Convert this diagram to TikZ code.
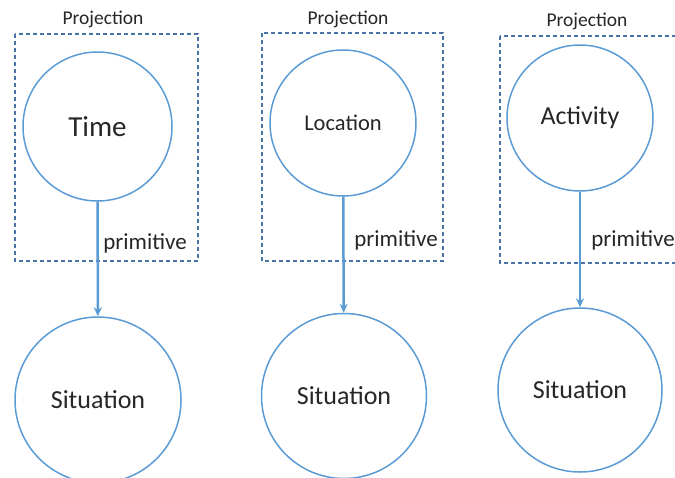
\documentclass[tikz,border=0pt]{standalone}
\usepackage{fontspec}
\setmainfont{Carlito}
\usetikzlibrary{arrows.meta}
\definecolor{circblue}{RGB}{91,155,213}
\definecolor{boxblue}{RGB}{72,114,168}

\begin{document}
\begin{tikzpicture}[x=1pt,y=-1pt,
  concept/.style={draw=circblue,line width=1.5pt,circle,inner sep=0pt},
  projbox/.style={draw=boxblue,line width=1.2pt,dash pattern=on 4pt off 3pt},
  arr/.style={draw=circblue,line width=2.5pt,-{Stealth[length=9pt,width=8pt]}},
  lbl/.style={inner sep=0pt,text=black!85}]
\useasboundingbox (0,0) rectangle (675,477);

% projection boxes
\draw[projbox] (15,34) rectangle (198,261);
\draw[projbox] (262,33) rectangle (443,261);
\draw[projbox] (500,36) rectangle (690,263);

\node[lbl] (proj1) at (103,19) {\fontsize{19.5}{22}\selectfont Projection};
\node[lbl] (proj2) at (348,19) {\fontsize{19.5}{22}\selectfont Projection};
\node[lbl] (proj3) at (587,21) {\fontsize{19.5}{22}\selectfont Projection};

% top circles
\node[concept,minimum size=149pt,text=black!85] (time) at (97.5,126.5) {\fontsize{29}{32}\selectfont Time};
\node[concept,minimum size=146pt,text=black!85] (location) at (343,123) {\fontsize{22.5}{26}\selectfont Location};
\node[concept,minimum size=146pt,text=black!85] (activity) at (580,118) {\fontsize{26}{30}\selectfont Activity};

% bottom circles
\node[concept,minimum size=166pt,text=black!85] (sit1) at (98,400) {\fontsize{26}{30}\selectfont Situation};
\node[concept,minimum size=165pt,text=black!85] (sit2) at (344,396) {\fontsize{26}{30}\selectfont Situation};
\node[concept,minimum size=164pt,text=black!85] (sit3) at (580,390) {\fontsize{26}{30}\selectfont Situation};

% primitive arrows
\draw[arr] (time) -- (sit1);
\draw[arr] (location) -- (sit2);
\draw[arr] (activity) -- (sit3);

\node[lbl] (prim1) at (145,243) {\fontsize{23}{26}\selectfont primitive};
\node[lbl] (prim2) at (396,240) {\fontsize{23}{26}\selectfont primitive};
\node[lbl] (prim3) at (633,240) {\fontsize{23}{26}\selectfont primitive};

\end{tikzpicture}
\end{document}
